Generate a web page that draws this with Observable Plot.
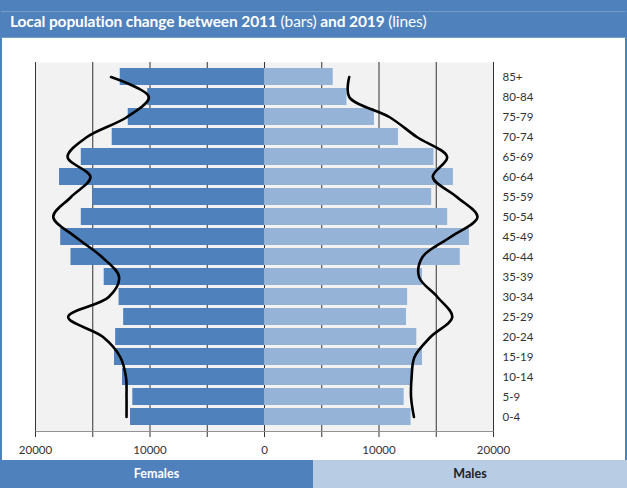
<!DOCTYPE html>
<html>
<head>
<meta charset="utf-8">
<script src="https://cdn.jsdelivr.net/npm/d3@7"></script>
<script src="https://cdn.jsdelivr.net/npm/@observablehq/plot@0.6"></script>
<style>
  html, body { margin: 0; padding: 0; background: #fff; }
  #wrap { position: relative; width: 627px; height: 488px; overflow: hidden; font-family: Lato, "Open Sans", sans-serif; }
  #title { position: absolute; left: 0; top: 0; width: 627px; height: 38px; background: #4f81bd; }
  #title .inner { position: absolute; left: 1px; right: 1px; top: 11px; height: 25px; border-top: 1px solid rgba(255,255,255,0.22); border-bottom: 1px solid rgba(255,255,255,0.22); }
  #title .txt { position: absolute; left: 10px; top: 12px; color: #fff; font-size: 15.5px; font-weight: 700; white-space: nowrap; letter-spacing: -0.1px; }
  #title .txt span { font-weight: 400; }
  #chart { position: absolute; left: 0; top: 38px; width: 627px; height: 422px; }
  #chart::before, #chart::after { content: ""; position: absolute; top: 0; bottom: 0; width: 2px; background: #4f81bd; }
  #chart::before { left: 0; }
  #chart::after { right: 0; }
  #legend { position: absolute; left: 0; top: 460px; width: 627px; height: 28px; }
  #legend div { position: absolute; top: 0; height: 28px; line-height: 28px; text-align: center; font-weight: 700; font-size: 12.5px; }
  #fem { left: 0; width: 313px; background: #4f81bd; color: #fff; }
  #mal { left: 313px; width: 314px; background: #b8cce4; color: #222; }
</style>
</head>
<body>
<div id="wrap">
  <div id="title"><div class="inner"></div><div class="txt">Local population change between 2011 <span>(bars)</span> and 2019 <span>(lines)</span></div></div>
  <div id="chart"></div>
  <div id="legend"><div id="fem">Females</div><div id="mal">Males</div></div>
</div>
<script>
// Age groups, bottom (youngest) to top (oldest)
const ages = ["0-4","5-9","10-14","15-19","20-24","25-29","30-34","35-39","40-44","45-49","50-54","55-59","60-64","65-69","70-74","75-79","80-84","85+"];
// 2011 (bars)
const females2011 = [11700, 11500, 12400, 13100, 13000, 12300, 12700, 14000, 16900, 17800, 16000, 15000, 17900, 16000, 13300, 11900, 10200, 12600];
const males2011   = [12800, 12200, 12900, 13800, 13300, 12400, 12500, 13800, 17100, 17900, 16000, 14600, 16500, 14800, 11700, 9600, 7200, 6000];
// 2019 (lines)
const females2019 = [12050, 12050, 12100, 12600, 14100, 17150, 13600, 12700, 14200, 16500, 18450, 16900, 15200, 17200, 15500, 12000, 10100, 13400];
const males2019   = [13050, 12800, 12850, 13100, 14500, 16400, 15100, 13500, 13800, 16250, 18600, 16800, 14700, 15950, 13300, 10900, 7400, 7400];
// x ticks
const gridTicks = [-20000, -15000, -10000, -5000, 0, 5000, 10000, 15000, 20000];
const labelTicks = [-20000, -10000, 0, 10000, 20000];

const rows = ages.map((age, i) => ({
  age,
  f11: females2011[i], m11: males2011[i],
  f19: females2019[i], m19: males2019[i]
}));

const chart = Plot.plot({
  width: 627,
  height: 422,
  marginTop: 24,
  marginBottom: 29,
  marginLeft: 35,
  marginRight: 134,
  style: { fontFamily: "Lato, 'Open Sans', sans-serif", fontSize: "11.5px", color: "#333", background: "transparent" },
  x: {
    domain: [-20000, 20000],
    ticks: gridTicks,
    tickFormat: d => labelTicks.includes(d) ? String(Math.abs(d)) : "",
    tickSize: 6,
    tickPadding: 8,
    line: true,
    label: null
  },
  y: {
    domain: ages.slice().reverse(),
    padding: 0.15,
    axis: "right",
    tickSize: 0,
    tickPadding: 9,
    label: null
  },
  marks: [
    Plot.frame({ fill: "#f2f2f2", stroke: null }),
    Plot.ruleX(gridTicks, { stroke: "#333", strokeWidth: 1 }),
    Plot.barX(rows, { x1: 0, x2: d => -d.f11, y: "age", fill: "#4f81bd" }),
    Plot.barX(rows, { x1: 0, x2: d => d.m11, y: "age", fill: "#95b3d7" }),
    Plot.line(rows, { x: d => -d.f19, y: "age", curve: "catmull-rom", stroke: "#000", strokeWidth: 2.6 }),
    Plot.line(rows, { x: d => d.m19, y: "age", curve: "catmull-rom", stroke: "#000", strokeWidth: 2.6 })
  ]
});
document.getElementById("chart").appendChild(chart);
</script>
</body>
</html>
